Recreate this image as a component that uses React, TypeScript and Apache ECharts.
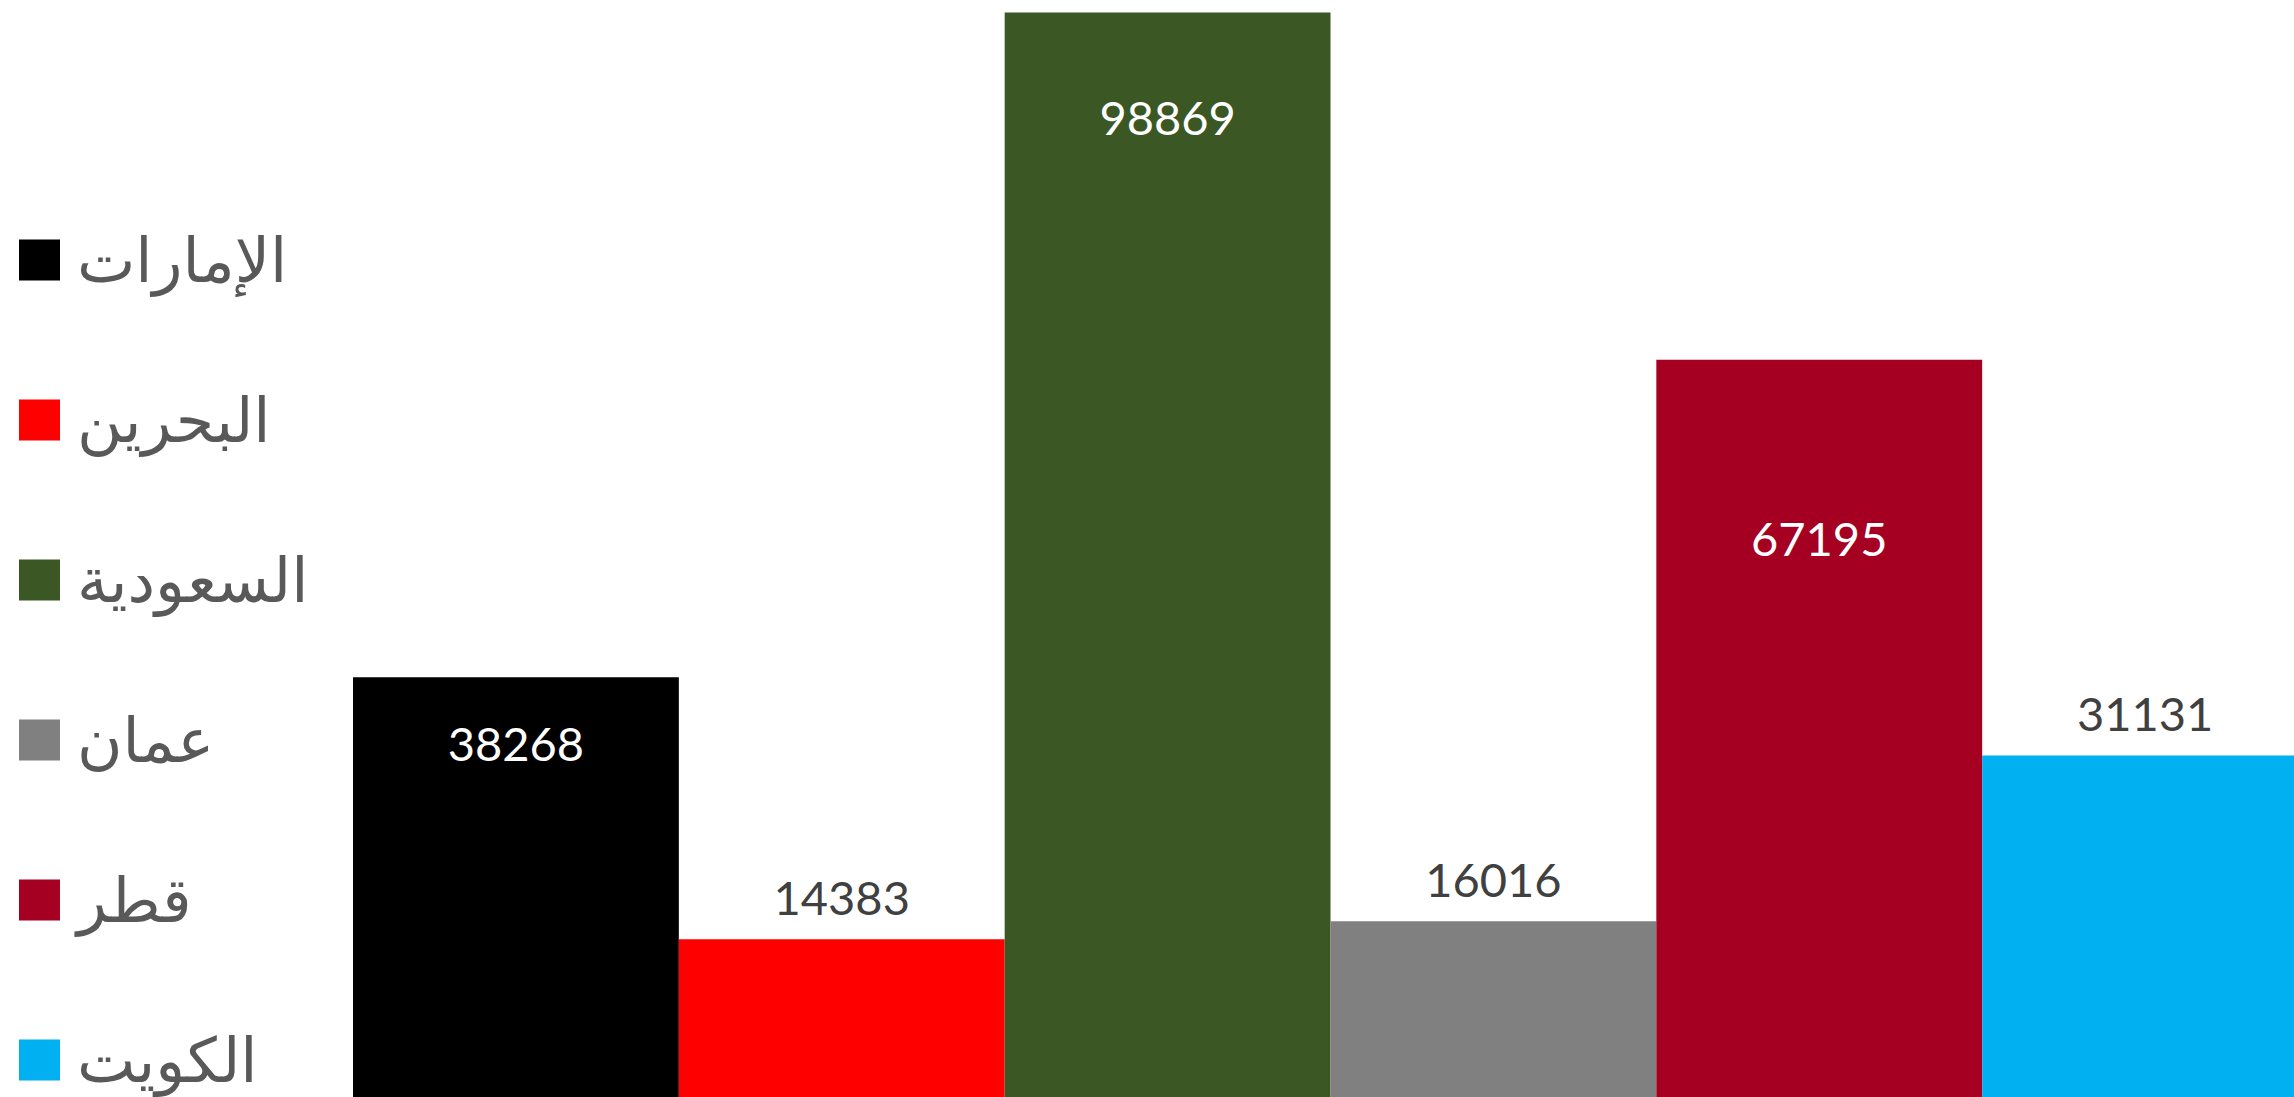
import React, { useEffect, useRef } from "react";
import * as echarts from "echarts";

const countries = ["الإمارات", "البحرين", "السعودية", "عمان", "قطر", "الكويت"];
const values = [38268, 14383, 98869, 16016, 67195, 31131];
const colors = ["#000000", "#FF0000", "#3A5724", "#808080", "#A50021", "#00B0F0"];
const labelInside = [true, false, true, false, true, false];
const labelDistance = [42, 19, 81, 19, 155, 19];

export default function App() {
  const ref = useRef<HTMLDivElement>(null);
  useEffect(() => {
    document.body.style.margin = "0";
    const chart = echarts.init(ref.current!, null, { renderer: "svg" });
    const series = countries.map((name, i) => ({
      name,
      type: "bar",
      data: [values[i]],
      itemStyle: { color: colors[i] },
      barGap: "0%",
      barCategoryGap: "0%",
      label: {
        show: true,
        position: labelInside[i] ? "insideTop" : "top",
        distance: labelDistance[i],
        color: labelInside[i] ? "#FFFFFF" : "#404040",
        fontFamily: "Lato",
        fontSize: 47,
        lineHeight: 47,
      },
    }));
    chart.setOption({
      animation: false,
      grid: { left: 353, width: 1955, top: 0, height: 1097, outerBoundsMode: "none", containLabel: false },
      xAxis: { type: "category", data: [""], show: false },
      yAxis: { type: "value", min: 0, max: 100000, show: false },
      legend: {
        orient: "vertical",
        left: 19,
        top: 229,
        padding: 0,
        itemWidth: 41,
        itemHeight: 41,
        itemGap: 98,
        icon: "rect",
        data: countries,
        textStyle: {
          color: "#595959",
          fontFamily: "DejaVu Sans",
          fontSize: 62,
          lineHeight: 62,
          padding: [0, 0, 0, 12],
        },
      },
      series,
    });
    return () => chart.dispose();
  }, []);
  return <div ref={ref} style={{ width: 2294, height: 1097, overflow: "hidden" }} />;
}
